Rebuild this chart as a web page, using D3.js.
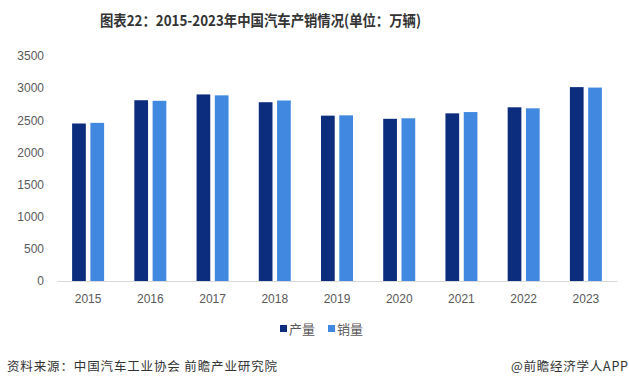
<!DOCTYPE html>
<html>
<head>
<meta charset="utf-8">
<script src="https://cdn.jsdelivr.net/npm/d3@7"></script>
<style>
  body { margin: 0; background: #fff; }
  text { font-family: "Microsoft YaHei", "Noto Sans CJK SC", sans-serif; }
</style>
</head>
<body>
<svg id="chart"></svg>
<script>
const years = ["2015", "2016", "2017", "2018", "2019", "2020", "2021", "2022", "2023"];
const production = [2450, 2812, 2902, 2781, 2572, 2523, 2608, 2702, 3016];
const sales = [2460, 2803, 2888, 2808, 2577, 2531, 2628, 2686, 3009];
const seriesNames = ["产量", "销量"];
const yTicks = [0, 500, 1000, 1500, 2000, 2500, 3000, 3500];

const colors = ["#0c2d7e", "#4189e0"];

let svg = d3.select("svg#chart")
  .attr("width", 629)
  .attr("height", 387)
  .style("background", "#fff");

const x = d3.scaleBand().domain(years).range([57, 617]);
const y = d3.scaleLinear().domain([0, 3500]).range([281, 56]);
const inner = d3.scaleBand().domain([0, 1]).range([-16, 16]).paddingInner(0.25);

// title
svg.append("text").attr("x", 100).attr("y", 26)
  .attr("font-size", 15).attr("font-weight", "bold").attr("fill", "#333")
  .attr("textLength", 321).attr("lengthAdjust", "spacingAndGlyphs")
  .text("图表22：2015-2023年中国汽车产销情况(单位：万辆)");

// y axis labels
svg.append("g").attr("transform", "translate(44,0)")
  .call(d3.axisLeft(y).tickValues(yTicks).tickFormat(d3.format("d")).tickSize(0).tickPadding(0))
  .call(g => g.select(".domain").remove())
  .selectAll("text").attr("font-size", 12).attr("fill", "#595959")
  .style("font-family", "'Liberation Sans', Arial, sans-serif");

// bars
const data = years.map((yr, i) => ({year: yr, vals: [production[i], sales[i]]}));
const groups = svg.selectAll(".grp").data(data).join("g").attr("class", "grp")
  .attr("transform", d => `translate(${x(d.year) + x.bandwidth() / 2},0)`);
groups.selectAll("rect").data(d => d.vals).join("rect")
  .attr("x", (d, i) => inner(i))
  .attr("width", inner.bandwidth())
  .attr("y", d => y(d))
  .attr("height", d => y(0) - y(d))
  .attr("fill", (d, i) => colors[i]);

// x axis
svg.append("g").attr("transform", "translate(0,281)")
  .call(d3.axisBottom(x).tickSize(0).tickPadding(13))
  .call(g => g.select(".domain").attr("stroke", "#d9d9d9"))
  .selectAll("text").attr("font-size", 12).attr("fill", "#595959")
  .style("font-family", "'Liberation Sans', Arial, sans-serif");

// legend
const legendX = [280, 328];
seriesNames.forEach((name, i) => {
  svg.append("rect").attr("x", legendX[i]).attr("y", 325).attr("width", 7).attr("height", 7).attr("fill", colors[i]);
  svg.append("text").attr("x", legendX[i] + 9).attr("y", 334)
    .attr("font-size", 13).attr("fill", "#595959").text(name);
});

// footer
svg.append("text").attr("x", 7).attr("y", 371).attr("font-size", 12.5).attr("fill", "#333")
  .attr("textLength", 270).attr("lengthAdjust", "spacing")
  .text("资料来源：中国汽车工业协会 前瞻产业研究院");
svg.append("text").attr("x", 511).attr("y", 371)
  .attr("font-size", 12.5).attr("fill", "#333")
  .attr("textLength", 117).attr("lengthAdjust", "spacing")
  .text("@前瞻经济学人APP");
</script>
</body>
</html>
